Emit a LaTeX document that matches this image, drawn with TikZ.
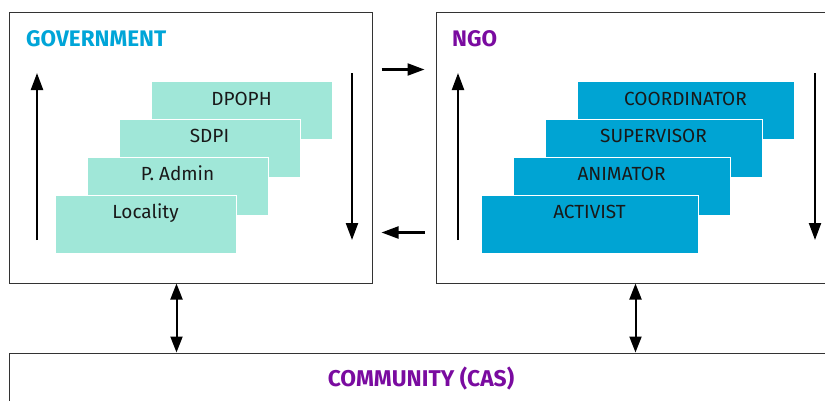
\documentclass[tikz,border=0pt]{standalone}
\usepackage{fontspec}
\setmainfont{Fira Sans}
\usetikzlibrary{arrows.meta,calc}
\definecolor{govfill}{HTML}{A0E7D8}
\definecolor{ngofill}{HTML}{00A4D3}
\definecolor{govtext}{HTML}{00A5D8}
\definecolor{ngopurple}{HTML}{7A0BA0}
\definecolor{framegray}{HTML}{333333}
\begin{document}
\begin{tikzpicture}[x=1pt,y=-1pt,
  frame/.style={draw=framegray,line width=1pt,fill=white,inner sep=0pt},
  govbox/.style={fill=govfill,draw=white,line width=1pt,minimum width=181pt,minimum height=58pt,inner sep=0pt},
  ngobox/.style={fill=ngofill,draw=white,line width=1pt,minimum width=217pt,minimum height=58pt,inner sep=0pt},
  boxlabel/.style={anchor=base,inner sep=0pt,text=black!90,font=\fontsize{19}{22}\selectfont},
  title/.style={anchor=base west,inner sep=0pt,font=\bfseries\fontsize{22.5}{25}\selectfont},
  arr/.style={line width=2.2pt,-{Triangle[length=17pt,width=12pt]}},
  darr/.style={line width=2pt,{Triangle[length=16pt,width=12pt]}-{Triangle[length=16pt,width=12pt]}}
]
\useasboundingbox (0,0) rectangle (825,400);
\clip (0,0) rectangle (825,400);
\fill[white] (0,0) rectangle (825,400);

% frames
\node[frame,minimum width=363pt,minimum height=271pt] (gov) at (190.5,147.5) {};
\node[frame,minimum width=394pt,minimum height=271pt] (ngo) at (633,147.5) {};
\node[frame,minimum width=821pt,minimum height=87pt] (comm) at (419.5,396.5) {};

% titles
\node[title,text=govtext] (govtitle) at (26,46) {GOVERNMENT};
\node[title,text=ngopurple] (ngotitle) at (452,46) {NGO};
\node[anchor=base,inner sep=0pt,text=ngopurple,font=\bfseries\fontsize{22.8}{25}\selectfont] (commtitle) at (421,386.7) {COMMUNITY (CAS)};

% government layers (back to front)
\node[govbox] (dpoph) at (241.5,110.5) {};
\node[boxlabel] (dpophl) at ($(dpoph.north)+(0,24)$) {DPOPH};
\node[govbox] (sdpi) at (209.5,148) {};
\node[boxlabel] (sdpil) at ($(sdpi.north)+(0,24)$) {SDPI};
\node[govbox] (padmin) at (177.5,186) {};
\node[boxlabel] (padminl) at ($(padmin.north)+(0,24)$) {P. Admin};
\node[govbox] (locality) at (145.5,224) {};
\node[boxlabel] (localityl) at ($(locality.north)+(0,24)$) {Locality};

% ngo layers (back to front)
\node[ngobox] (coord) at (685.5,110.5) {};
\node[boxlabel] (coordl) at ($(coord.north)+(0,24)$) {COORDINATOR};
\node[ngobox] (superv) at (653.5,148) {};
\node[boxlabel] (supervl) at ($(superv.north)+(0,24)$) {SUPERVISOR};
\node[ngobox] (anim) at (621.5,186) {};
\node[boxlabel] (animl) at ($(anim.north)+(0,24)$) {ANIMATOR};
\node[ngobox] (activ) at (589.5,224) {};
\node[boxlabel] (activl) at ($(activ.north)+(0,24)$) {ACTIVIST};

% vertical arrows inside frames
\draw[arr] (37,240) -- (37,73);
\draw[arr] (352,73) -- (352,240);
\draw[arr] (458,240) -- (458,73);
\draw[arr] (815,73) -- (815,240);

% arrows between government and NGO
\draw[arr] ($(gov.north east)+(9,58)$) -- ($(ngo.north west)+(-11,58)$);
\draw[arr] ($(ngo.north west)+(-11,221)$) -- ($(gov.north east)+(9,221)$);

% arrows to community
\draw[darr] ($(gov.south west)+(168,0)$) -- ($(comm.north west)+(168,0)$);
\draw[darr] ($(ngo.south west)+(200,0)$) -- ($(comm.north west)+(627,0)$);
\end{tikzpicture}
\end{document}
